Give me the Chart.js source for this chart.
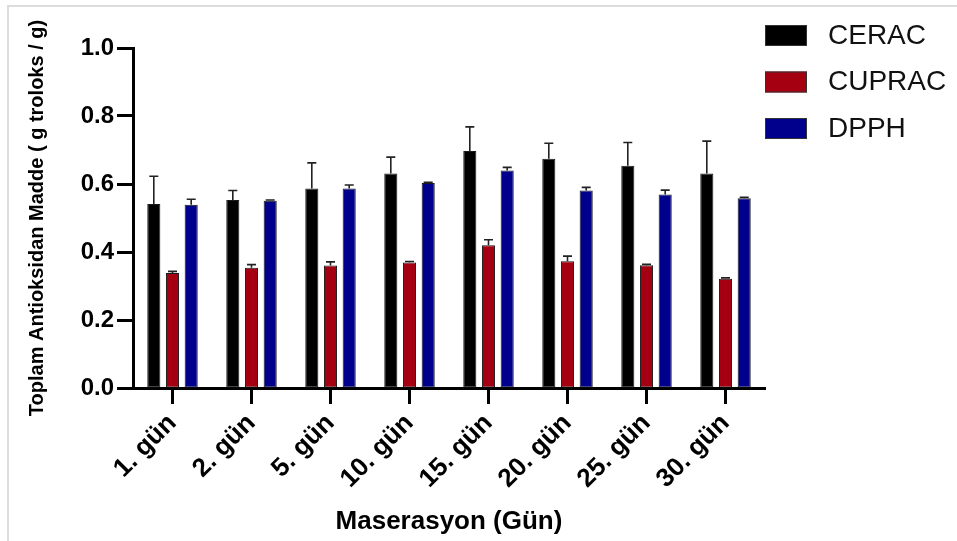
<!DOCTYPE html>
<html>
<head>
<meta charset="utf-8">
<script src="https://cdn.jsdelivr.net/npm/chart.js@4.4.0/dist/chart.umd.min.js"></script>
<style>
    html, body { margin: 0; padding: 0; background: #fff; }
    #wrap { width: 957px; height: 541px; }
</style>
</head>
<body>
<div id="wrap"><canvas id="chart" width="957" height="541"></canvas></div>
<script>
// categories and values
const days = ['1. gün', '2. gün', '5. gün', '10. gün', '15. gün', '20. gün', '25. gün', '30. gün'];
const yTickLabels = ['0.0', '0.2', '0.4', '0.6', '0.8', '1.0'];

const ceracValues = [0.541, 0.553, 0.587, 0.631, 0.697, 0.674, 0.654, 0.631];
const ceracErrors = [0.082, 0.028, 0.075, 0.048, 0.071, 0.046, 0.068, 0.095];

const cupracValues = [0.338, 0.354, 0.360, 0.369, 0.420, 0.373, 0.361, 0.321];
const cupracErrors = [0.005, 0.009, 0.011, 0.003, 0.016, 0.015, 0.003, 0.003];

const dpphValues = [0.539, 0.551, 0.587, 0.603, 0.640, 0.581, 0.569, 0.558];
const dpphErrors = [0.016, 0.002, 0.010, 0.002, 0.009, 0.009, 0.013, 0.003];

const FONT = '"Liberation Sans", Arial, sans-serif';

// upward error bars with a small cap
const errorBars = {
    id: 'errorBars',
    afterDatasetsDraw(chart) {
        const { ctx, scales: { y } } = chart;
        ctx.save();
        ctx.strokeStyle = '#222';
        ctx.lineWidth = 1.6;
        chart.data.datasets.forEach((ds, di) => {
            const meta = chart.getDatasetMeta(di);
            meta.data.forEach((bar, i) => {
                const top = y.getPixelForValue(ds.data[i] + ds.errors[i]);
                ctx.beginPath();
                ctx.moveTo(bar.x, bar.y);
                ctx.lineTo(bar.x, top);
                ctx.moveTo(bar.x - 4.5, top);
                ctx.lineTo(bar.x + 4.5, top);
                ctx.stroke();
            });
        });
        ctx.restore();
    }
};

// thin grey frame of the original picture + legend at the right
const frameAndLegend = {
    id: 'frameAndLegend',
    beforeDraw(chart) {
        const { ctx } = chart;
        ctx.save();
        ctx.strokeStyle = '#dcdcdc';
        ctx.lineWidth = 2;
        ctx.beginPath();
        ctx.moveTo(8, 541);
        ctx.lineTo(8, 6);
        ctx.lineTo(957, 6);
        ctx.stroke();
        ctx.restore();
    },
    afterDraw(chart) {
        const { ctx, chartArea } = chart;
        const x = chartArea.right;
        ctx.save();
        ctx.font = '28px ' + FONT;
        ctx.textBaseline = 'middle';
        chart.data.datasets.forEach((ds, i) => {
            const top = 25 + i * 46.5;
            ctx.fillStyle = ds.backgroundColor;
            ctx.fillRect(x, top, 42, 21);
            ctx.strokeStyle = '#333';
            ctx.lineWidth = 1;
            ctx.strokeRect(x + 0.5, top + 0.5, 41, 20);
            ctx.fillStyle = '#111';
            ctx.fillText(ds.label, x + 63, top + 11);
        });
        ctx.restore();
    }
};

const makeSet = (label, values, errors, color) => ({
    label: label,
    data: values,
    errors: errors,
    backgroundColor: color,
    borderColor: '#1a1a1a',
    borderWidth: 1,
    borderSkipped: false,
    categoryPercentage: 0.71,
    barPercentage: 0.7
});

new Chart(document.getElementById('chart'), {
    type: 'bar',
    data: {
        labels: days,
        datasets: [
            makeSet('CERAC', ceracValues, ceracErrors, '#000000'),
            makeSet('CUPRAC', cupracValues, cupracErrors, '#a50012'),
            makeSet('DPPH', dpphValues, dpphErrors, '#00008c')
        ]
    },
    plugins: [errorBars, frameAndLegend],
    options: {
        responsive: false,
        animation: false,
        layout: { padding: { left: 0, top: 48, right: 192, bottom: 0 } },
        plugins: {
            legend: { display: false },
            tooltip: { enabled: false }
        },
        scales: {
            x: {
                offset: true,
                afterFit(scale) { scale.height = 153; },
                grid: {
                    offset: false,
                    drawOnChartArea: false,
                    drawTicks: true,
                    tickLength: 16,
                    tickWidth: 3,
                    tickColor: '#000'
                },
                border: { display: true, color: '#000', width: 3 },
                ticks: {
                    color: '#000',
                    font: { family: FONT, size: 26, weight: 'bold' },
                    minRotation: 45,
                    maxRotation: 45,
                    padding: 4
                },
                title: {
                    display: true,
                    text: 'Maserasyon (Gün)',
                    color: '#000',
                    font: { family: FONT, size: 26, weight: 'bold' },
                    padding: { top: 0, bottom: 4 }
                }
            },
            y: {
                min: 0,
                max: 1.0,
                afterFit(scale) { scale.width = 133; },
                grid: {
                    drawOnChartArea: false,
                    drawTicks: true,
                    tickLength: 16,
                    tickWidth: 3,
                    tickColor: '#000'
                },
                border: { display: true, color: '#000', width: 3 },
                ticks: {
                    stepSize: 0.2,
                    color: '#000',
                    padding: 3,
                    font: { family: FONT, size: 24, weight: 'bold' },
                    callback: (v, i) => yTickLabels[i]
                },
                title: {
                    display: true,
                    text: 'Toplam Antioksidan Madde ( g troloks / g)',
                    color: '#000',
                    font: { family: FONT, size: 20, weight: 'bold' },
                    padding: { top: 25, bottom: 0 }
                }
            }
        }
    }
});
</script>
</body>
</html>
